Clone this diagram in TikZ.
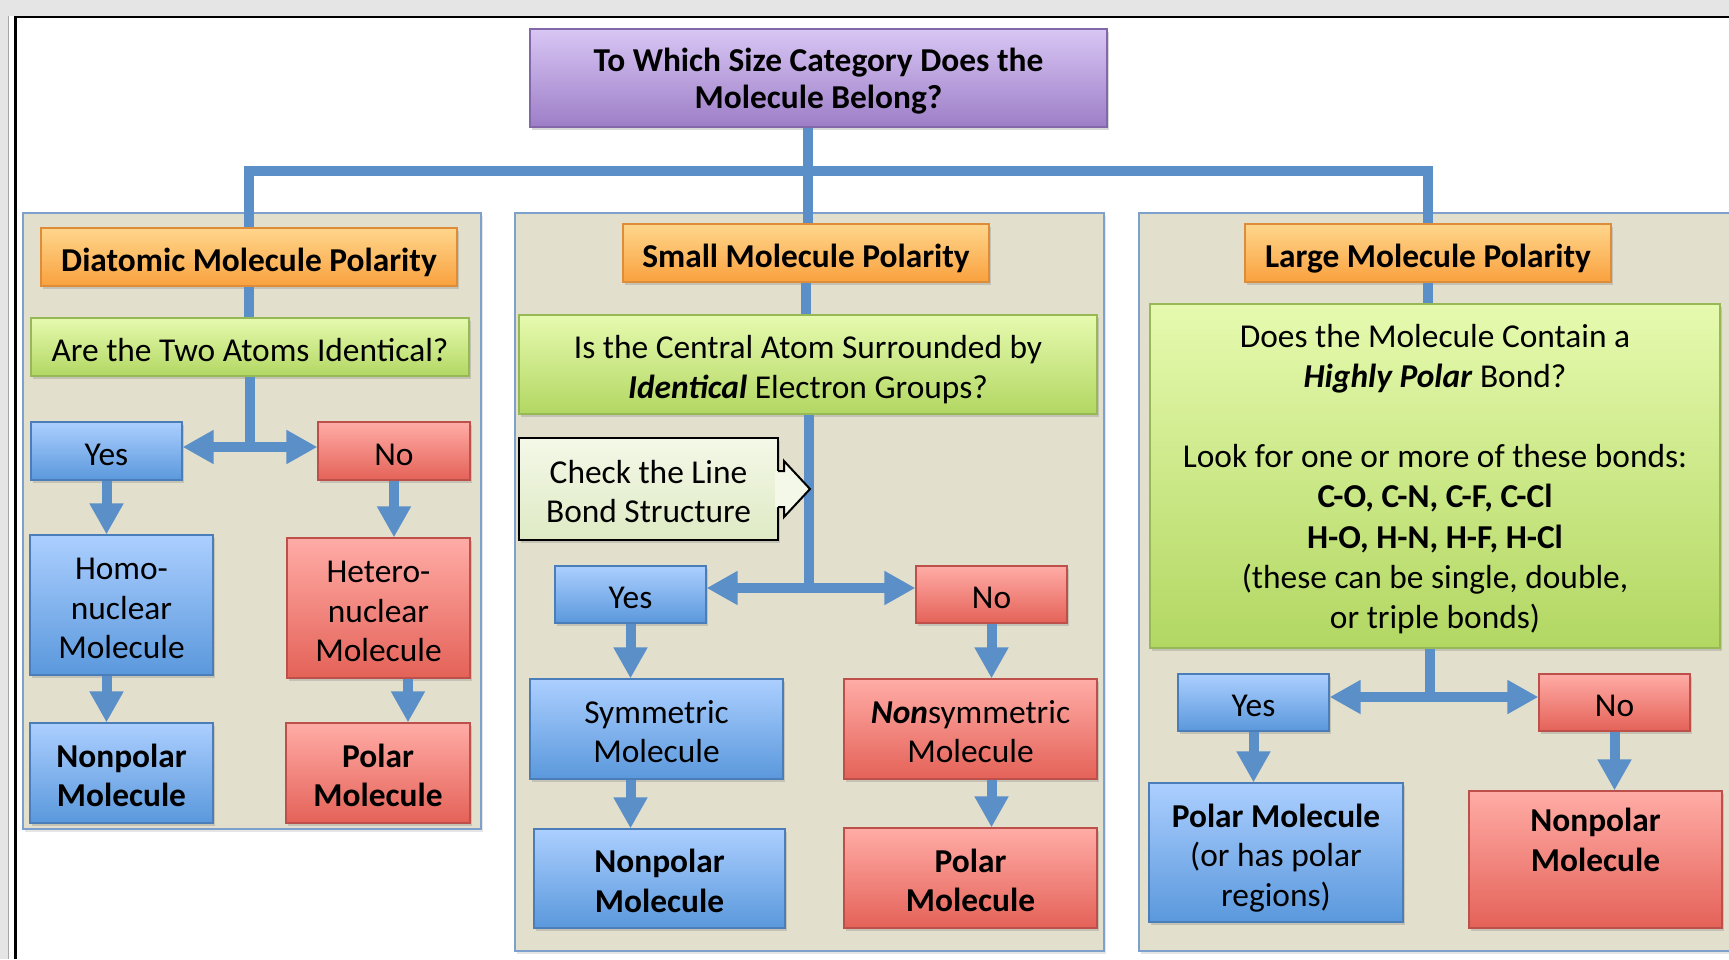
\documentclass[tikz,border=0pt]{standalone}
\usepackage{fontspec}
\setmainfont{Carlito}
\usetikzlibrary{arrows.meta,shadows}

\definecolor{winbg}{RGB}{229,229,229}
\definecolor{panelfill}{RGB}{226,223,205}
\definecolor{paneledge}{RGB}{125,160,205}
\definecolor{linkblue}{RGB}{91,143,199}
\definecolor{purpletop}{RGB}{216,198,244}
\definecolor{purplebot}{RGB}{157,126,199}
\definecolor{purpleedge}{RGB}{130,104,168}
\definecolor{orangetop}{RGB}{255,214,140}
\definecolor{orangebot}{RGB}{249,161,62}
\definecolor{orangeedge}{RGB}{222,140,55}
\definecolor{greentop}{RGB}{230,250,175}
\definecolor{greenbot}{RGB}{178,215,98}
\definecolor{greenedge}{RGB}{150,185,85}
\definecolor{bluetop}{RGB}{172,207,255}
\definecolor{bluebot}{RGB}{90,152,220}
\definecolor{blueedge}{RGB}{75,125,185}
\definecolor{redtop}{RGB}{255,172,166}
\definecolor{redbot}{RGB}{228,98,88}
\definecolor{rededge}{RGB}{190,80,75}
\definecolor{chktop}{RGB}{244,248,232}
\definecolor{chkbot}{RGB}{222,234,196}

\tikzset{
  flatbox/.style={draw,line width=1.2pt,drop shadow={shadow xshift=2pt,shadow yshift=-3pt,opacity=.3}},
  bfnode/.style={font=\fontsize{33.4}{39.5}\selectfont\bfseries},
  lines2/.style={text height=75.5pt},
  lines3/.style={text height=115pt},
  topbox/.style={flatbox,bfnode,draw=purpleedge,top color=purpletop,bottom color=purplebot},
  catbox/.style={flatbox,bfnode,draw=orangeedge,top color=orangetop,bottom color=orangebot},
  askbox/.style={flatbox,draw=greenedge,top color=greentop,bottom color=greenbot},
  yesbox/.style={flatbox,draw=blueedge,top color=bluetop,bottom color=bluebot},
  nobox/.style={flatbox,draw=rededge,top color=redtop,bottom color=redbot},
  chkbox/.style={flatbox,draw=black,line width=2pt,top color=chktop,bottom color=chkbot},
  panel/.style={draw=paneledge,fill=panelfill,line width=2pt,drop shadow={shadow xshift=2pt,shadow yshift=-3pt,opacity=.2}},
  bus/.style={draw=linkblue,line width=10pt},
  harrow/.style={bus,-{Triangle[length=31pt,width=32pt]}}
}

\begin{document}
\begin{tikzpicture}[x=1pt,y=-1pt,
  every node/.style={font=\fontsize{33.4}{39.5}\selectfont,align=center,inner sep=0pt,
    text height=36pt,text depth=8pt}]
\useasboundingbox (0,0) rectangle (1729,959);
\clip (0,0) rectangle (1729,959);
\fill[white] (0,0) rectangle (1729,959);
\fill[winbg] (0,0) rectangle (1729,16);
\fill[winbg] (0,0) rectangle (8,959);
\draw[black!35,line width=1pt] (8.5,16) -- (8.5,959);
\draw[black,line width=2.5pt] (15.5,959) -- (15.5,17) -- (1729,17);

% the three size panels
\draw[panel] (23,213) rectangle (481,829);
\draw[panel] (515,213) rectangle (1104,951);
\draw[panel] (1139,213) rectangle (1745,951);

\node[topbox,font=\fontsize{33.4}{36.5}\selectfont\bfseries,text height=68pt,
  minimum width=577,minimum height=98] (q0) at (818.5,78) {To Which Size Category Does the\\Molecule Belong?};

% diatomic
\node[catbox,minimum width=416,minimum height=58] (cat1) at (249,257) {Diatomic Molecule Polarity};
\node[askbox,minimum width=438,minimum height=58] (ask1) at (250,347) {Are the Two Atoms Identical?};
\node[yesbox,minimum width=151,minimum height=58] (yes1) at (106.5,451) {Yes};
\node[nobox,minimum width=152,minimum height=58] (no1) at (394,451) {No};
\node[yesbox,lines3,minimum width=183,minimum height=140] (homo1) at (121.5,605) {Homo-\\nuclear\\Molecule};
\node[nobox,lines3,minimum width=183,minimum height=140] (het1) at (378.5,608) {Hetero-\\nuclear\\Molecule};
\node[yesbox,bfnode,lines2,minimum width=183,minimum height=100] (np1) at (121.5,773) {Nonpolar\\Molecule};
\node[nobox,bfnode,lines2,minimum width=184,minimum height=100] (pl1) at (378,773) {Polar\\Molecule};

% small
\node[catbox,minimum width=366,minimum height=58] (cat2) at (806,253) {Small Molecule Polarity};
\node[askbox,lines2,minimum width=578,minimum height=99] (ask2) at (808,364.5) {Is the Central Atom Surrounded by\\\textbf{\textit{Identical}} Electron Groups?};
\node[chkbox,lines2,minimum width=259,minimum height=102] (chk) at (648.5,489) {Check the Line\\Bond Structure};
\node[yesbox,minimum width=151,minimum height=57] (yes2) at (630.5,594.5) {Yes};
\node[nobox,minimum width=151,minimum height=57] (no2) at (991.5,594.5) {No};
\node[yesbox,lines2,minimum width=253,minimum height=100] (sym2) at (656.5,729) {Symmetric\\Molecule};
\node[nobox,lines2,minimum width=253,minimum height=100] (nsym2) at (970.5,729) {\textbf{\textit{Non}}symmetric\\Molecule};
\node[yesbox,bfnode,lines2,minimum width=251,minimum height=99] (np2) at (659.5,878.5) {Nonpolar\\Molecule};
\node[nobox,bfnode,lines2,minimum width=253,minimum height=100] (pl2) at (970.5,878) {Polar\\Molecule};

% large
\node[catbox,minimum width=366,minimum height=58] (cat3) at (1428,253) {Large Molecule Polarity};
\node[askbox,font=\fontsize{33.4}{40.2}\selectfont,text height=313pt,
  minimum width=570,minimum height=344] (ask3) at (1435,476) {Does the Molecule Contain a\\
  \textbf{\textit{Highly Polar}} Bond?\\[40.2pt]
  Look for one or more of these bonds:\\
  \textbf{C-O, C-N, C-F, C-Cl}\\
  \textbf{H-O, H-N, H-F, H-Cl}\\
  (these can be single, double,\\
  or triple bonds)};
\node[yesbox,minimum width=151,minimum height=57] (yes3) at (1253.5,702.5) {Yes};
\node[nobox,minimum width=151,minimum height=57] (no3) at (1614.5,702.5) {No};
\node[yesbox,lines3,minimum width=254,minimum height=139] (pl3) at (1276,852.5) {\textbf{Polar Molecule}\\(or has polar\\regions)};
\node[nobox,bfnode,lines2,text depth=52.5pt,minimum width=253,minimum height=137] (np3) at (1595.5,859.5) {Nonpolar\\Molecule};

% connectors
\coordinate (hub) at (808,171);
\draw[bus] (q0.south -| hub) -- (cat2.north -| hub);
\draw[bus] (cat1.north) -- (cat1.north |- hub) -- (cat3.north |- hub) -- (cat3.north);
\foreach \a/\b in {cat1/ask1,cat2/ask2,cat3/ask3}
  {\draw[bus] (\a.south) -- (\a.south |- \b.north);}

\coordinate (s1) at (250,447);
\coordinate (s2) at (809,588);
\coordinate (s3) at (1430,697);
\foreach \q/\j/\p/\m in {ask1/s1/yes1/no1,ask2/s2/yes2/no2,ask3/s3/yes3/no3}
  {\draw[bus] (\q.south -| \j) -- (\j);
   \draw[harrow] (\j) -- (\j -| \p.east);
   \draw[harrow] (\j) -- (\j -| \m.west);}

\foreach \c/\a/\b in {yes1/yes1/homo1,yes1/homo1/np1,no1/no1/het1,
  yes2/yes2/sym2,yes2/sym2/np2,no2/no2/nsym2,no2/nsym2/pl2,
  yes3/yes3/pl3,no3/no3/np3}
  {\draw[harrow] (\c |- \a.south) -- (\c |- \b.north);}
\coordinate (hcol) at (408,0);
\draw[harrow] (hcol |- het1.south) -- (hcol |- pl1.north);

% pointer of the check box
\fill[chktop] (775,471) -- (784,471) -- (784,461) -- (810,489) -- (784,517) -- (784,507) -- (775,507) -- cycle;
\draw[black,line width=2pt] (778,471) -- (784,471) -- (784,461) -- (810,489) -- (784,517) -- (784,507) -- (778,507);
\end{tikzpicture}
\end{document}
